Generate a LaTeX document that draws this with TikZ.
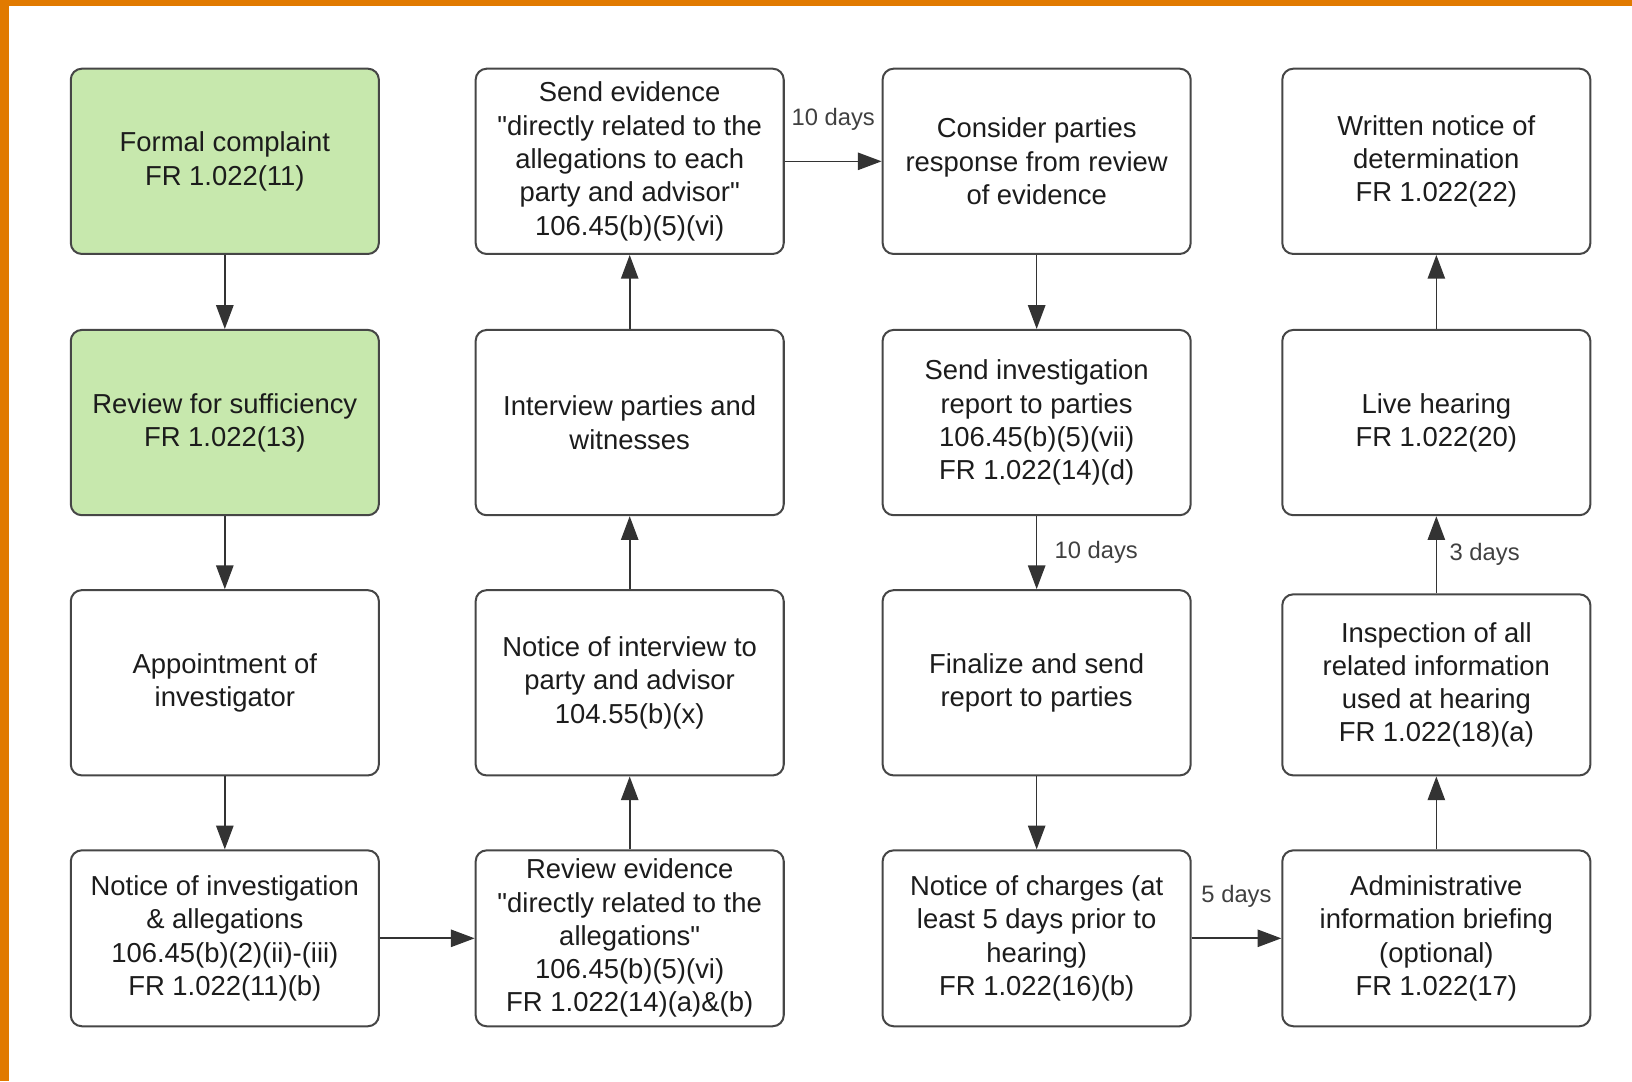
\documentclass[tikz,border=0pt]{standalone}
\usepackage{fontspec}
\newfontfamily\boxfont{Liberation Sans}
\usetikzlibrary{arrows.meta}
\definecolor{startgreen}{RGB}{199,232,173}
\definecolor{frameorange}{RGB}{225,122,0}
\definecolor{boxline}{RGB}{70,70,70}
\definecolor{inktext}{RGB}{28,28,28}

\begin{document}
\begin{tikzpicture}[
  stepbox/.style={draw=boxline, line width=1.1pt, rounded corners=6pt, fill=white,
    minimum width=5.92cm, minimum height=3.56cm, align=center, text=inktext,
    font=\boxfont\fontsize{15}{18.2}\selectfont, inner sep=2pt},
  startbox/.style={stepbox, fill=startgreen},
  lowbox/.style={stepbox, minimum height=3.38cm},
  flow/.style={draw=black!80, line width=0.9pt, -{Triangle[length=13pt,width=9.5pt]}},
  days/.style={text=black!75, font=\boxfont\fontsize{13}{15}\selectfont}
]
\useasboundingbox (0,0) rectangle (31.36,-20.78);
\fill[frameorange] (0,0) rectangle (31.36,-0.12);
\fill[frameorange] (0,0) rectangle (0.17,-20.78);

% first column
\node[startbox] (complaint) at (4.32,-3.10) {Formal complaint\\FR 1.022(11)};
\node[startbox] (sufficiency) at (4.32,-8.12) {Review for sufficiency\\FR 1.022(13)};
\node[stepbox] (investigator) at (4.32,-13.12) {Appointment of\\investigator};
\node[lowbox] (allegations) at (4.32,-18.03) {Notice of investigation\\\& allegations\\106.45(b)(2)(ii)-(iii)\\FR 1.022(11)(b)};

% second column
\node[lowbox] (reviewev) at (12.10,-18.03) {Review evidence\\"directly related to the\\allegations"\\106.45(b)(5)(vi)\\FR 1.022(14)(a)\&(b)};
\node[stepbox] (interviewnote) at (12.10,-13.12) {Notice of interview to\\party and advisor\\104.55(b)(x)};
\node[stepbox] (interview) at (12.10,-8.12) {Interview parties and\\witnesses};
\node[stepbox] (sendev) at (12.10,-3.10) {Send evidence\\"directly related to the\\allegations to each\\party and advisor"\\106.45(b)(5)(vi)};

% third column
\node[stepbox] (consider) at (19.92,-3.10) {Consider parties\\response from review\\of evidence};
\node[stepbox] (sendrep) at (19.92,-8.12) {Send investigation\\report to parties\\106.45(b)(5)(vii)\\FR 1.022(14)(d)};
\node[stepbox] (finalize) at (19.92,-13.12) {Finalize and send\\report to parties};
\node[lowbox] (charges) at (19.92,-18.03) {Notice of charges (at\\least 5 days prior to\\hearing)\\FR 1.022(16)(b)};

% fourth column
\node[lowbox] (briefing) at (27.60,-18.03) {Administrative\\information briefing\\(optional)\\FR 1.022(17)};
\node[stepbox, minimum height=3.48cm] (inspection) at (27.60,-13.16) {Inspection of all\\related information\\used at hearing\\FR 1.022(18)(a)};
\node[stepbox] (hearing) at (27.60,-8.12) {Live hearing\\FR 1.022(20)};
\node[stepbox] (determination) at (27.60,-3.10) {Written notice of\\determination\\FR 1.022(22)};

% connectors
\draw[flow] (complaint) -- (sufficiency);
\draw[flow] (sufficiency) -- (investigator);
\draw[flow] (investigator) -- (allegations);
\draw[flow] (allegations) -- (reviewev);
\draw[flow] (reviewev) -- (interviewnote);
\draw[flow] (interviewnote) -- (interview);
\draw[flow] (interview) -- (sendev);
\draw[flow] (sendev) -- node[days, yshift=23pt] {10 days} (consider);
\draw[flow] (consider) -- (sendrep);
\draw[flow] (sendrep) -- node[days, right=6pt] {10 days} (finalize);
\draw[flow] (finalize) -- (charges);
\draw[flow] (charges) -- node[days, yshift=23pt] {5 days} (briefing);
\draw[flow] (briefing) -- (inspection);
\draw[flow] (inspection) -- node[days, right=3.5pt] {3 days} (hearing);
\draw[flow] (hearing) -- (determination);
\end{tikzpicture}
\end{document}
